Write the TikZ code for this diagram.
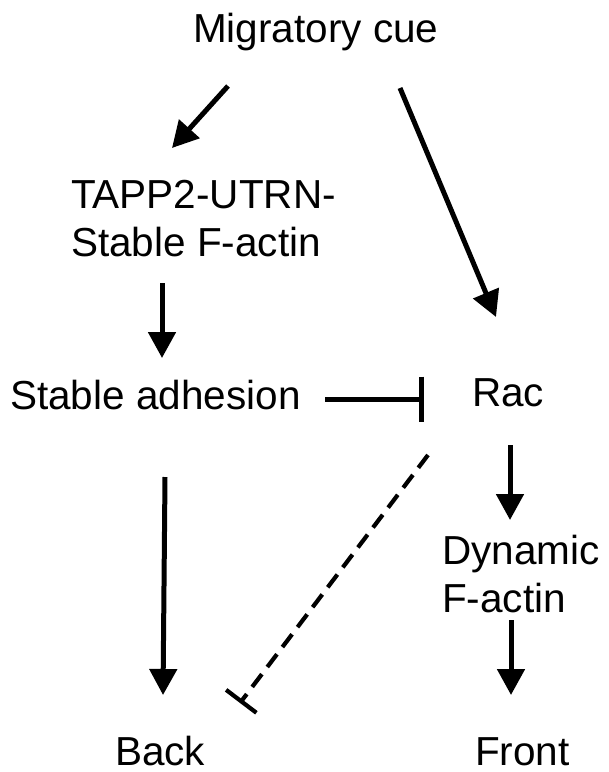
\documentclass[tikz,border=0pt]{standalone}
\usepackage{fontspec}
\setmainfont{Liberation Sans}
\usetikzlibrary{arrows.meta}
\begin{document}
\begin{tikzpicture}[x=1pt,y=-1pt,
  label/.style={inner sep=0pt, anchor=base west, align=left,
    font=\fontsize{40.5}{48}\selectfont},
  link/.style={line width=5pt, -{Triangle[width=27pt,length=26pt]}},
  block/.style={line width=5pt, -{Bar[width=45pt,line width=5pt]}},
  dashblock/.style={line width=4.2pt, dash pattern=on 16pt off 9pt,
    -{Bar[width=38pt,line width=4.2pt]}}]
\useasboundingbox (0,0) rectangle (609,772);

% labels (multi-line labels are placed by their last baseline)
\node[label] (cue)   at (193,42)  {Migratory cue};
\node[label] (tapp)  at (71,256)  {TAPP2-UTRN-\\Stable F-actin};
\node[label] (adh)   at (10,409)  {Stable adhesion};
\node[label] (rac)   at (472,406) {Rac};
\node[label] (dyn)   at (442,612) {Dynamic\\F-actin};
\node[label] (back)  at (115,765) {Back};
\node[label] (front) at (475,765) {Front};

% connector end points
\coordinate (cueL)   at (228,86);
\coordinate (tappT)  at (172,148);
\coordinate (cueR)   at (400,88);
\coordinate (racT)   at (496,317);
\coordinate (tappB)  at (162,283);
\coordinate (adhT)   at (162,358);
\coordinate (adhR)   at (325,399);
\coordinate (racL)   at (424,399);
\coordinate (adhB)   at (165,477);
\coordinate (backT)  at (163,695);
\coordinate (racB)   at (510,445);
\coordinate (dynT)   at (510,520);
\coordinate (dynB)   at (511,620);
\coordinate (frontT) at (511,695);
\coordinate (racD)   at (428,455);
\coordinate (backR)  at (240,703);

% activation
\draw[link] (cueL) -- (tappT);
\draw[link] (cueR) -- (racT);
\draw[link] (tappB) -- (adhT);
\draw[link] (adhB) -- (backT);
\draw[link] (racB) -- (dynT);
\draw[link] (dynB) -- (frontT);

% inhibition
\draw[block] (adhR) -- (racL);
\draw[dashblock] (racD) -- (backR);
\end{tikzpicture}
\end{document}
